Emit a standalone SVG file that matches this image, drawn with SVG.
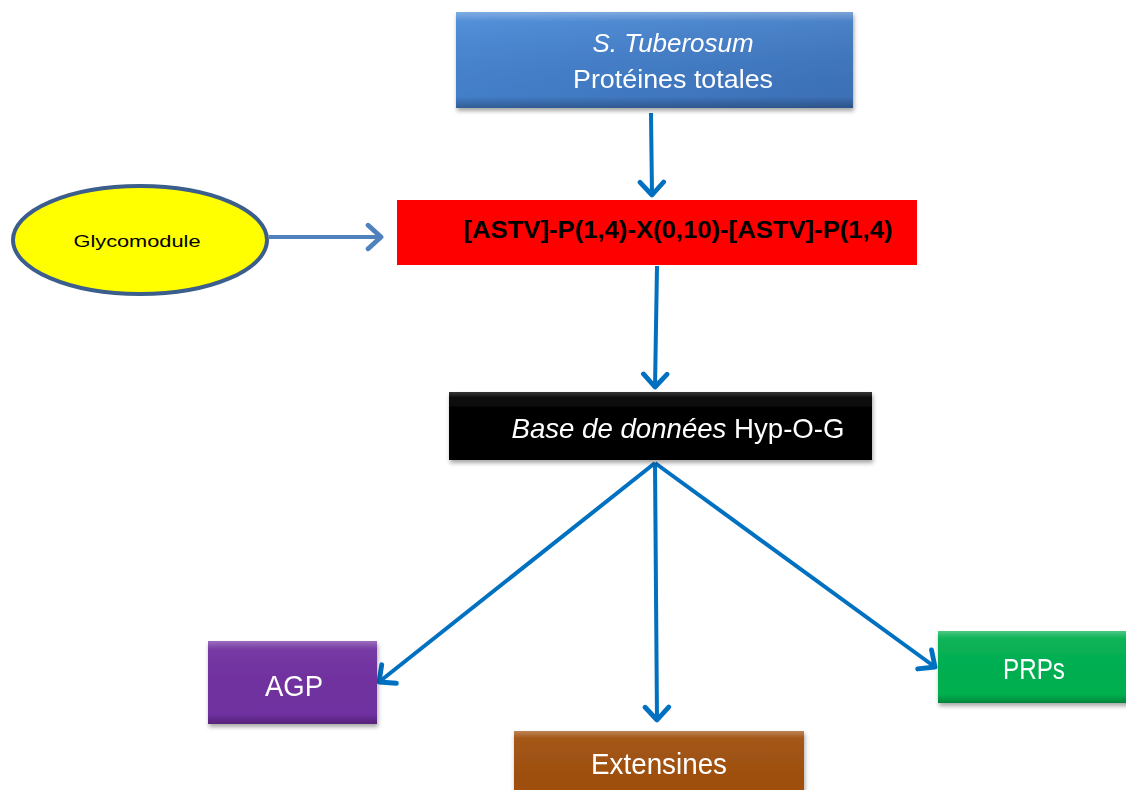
<svg xmlns="http://www.w3.org/2000/svg" width="1126" height="790" viewBox="0 0 1126 790">
  <defs>
    <style>
      .lbl { font-family: "Liberation Sans", Arial, sans-serif; fill: #ffffff; text-anchor: middle; }
      .conn { fill: none; stroke: #0070c0; stroke-width: 4; }
      .bevel { fill: url(#bevel); }
    </style>
    <linearGradient id="bevel" x1="0" y1="0" x2="0" y2="1">
      <stop offset="0" stop-color="#ffffff" stop-opacity="0.3"/>
      <stop offset="0.1" stop-color="#ffffff" stop-opacity="0.05"/>
      <stop offset="0.88" stop-color="#000000" stop-opacity="0"/>
      <stop offset="1" stop-color="#000000" stop-opacity="0.25"/>
    </linearGradient>
    <linearGradient id="blueFill" x1="0" y1="0" x2="1" y2="1">
      <stop offset="0" stop-color="#4a8bd8"/>
      <stop offset="1" stop-color="#3b6eb4"/>
    </linearGradient>
    <filter id="shadow" x="-10%" y="-10%" width="120%" height="130%">
      <feDropShadow dx="1" dy="3" stdDeviation="2" flood-color="#000000" flood-opacity="0.35"/>
    </filter>
    <marker id="chev" markerUnits="userSpaceOnUse" markerWidth="30" markerHeight="30" viewBox="-16 -14 20 28" refX="0" refY="0" orient="auto">
      <path d="M -12 -11 L 0 0 L -12 11" fill="none" stroke="#0070c0" stroke-width="4.5" stroke-linejoin="round" stroke-linecap="round"/>
    </marker>
    <marker id="chev2" markerUnits="userSpaceOnUse" markerWidth="30" markerHeight="30" viewBox="-16 -14 20 28" refX="0" refY="0" orient="auto">
      <path d="M -12 -11 L 0 0 L -12 11" fill="none" stroke="#4f81bd" stroke-width="4.5" stroke-linejoin="round" stroke-linecap="round"/>
    </marker>
  </defs>

  <rect x="0" y="0" width="1126" height="790" fill="#ffffff"/>

  <g id="connectors">
    <line class="conn" x1="651" y1="113" x2="652" y2="195" marker-end="url(#chev)"/>
    <line x1="269" y1="237" x2="381" y2="237" fill="none" stroke="#4f81bd" stroke-width="4" marker-end="url(#chev2)"/>
    <line class="conn" x1="657" y1="266" x2="655" y2="387" marker-end="url(#chev)"/>
    <line class="conn" x1="655" y1="463" x2="379" y2="682" marker-end="url(#chev)"/>
    <line class="conn" x1="655" y1="463" x2="657" y2="720" marker-end="url(#chev)"/>
    <line class="conn" x1="655" y1="463" x2="935" y2="667" marker-end="url(#chev)"/>
  </g>

  <g id="node-tuberosum" filter="url(#shadow)">
    <rect x="456" y="12" width="397" height="96" fill="url(#blueFill)"/>
    <rect x="456" y="12" width="397" height="96" class="bevel"/>
    <text class="lbl" x="673" y="52" font-size="26" font-style="italic" textLength="161" lengthAdjust="spacingAndGlyphs">S. Tuberosum</text>
    <text class="lbl" x="673" y="88" font-size="26" textLength="200" lengthAdjust="spacingAndGlyphs">Protéines totales</text>
  </g>

  <g id="node-glycomodule">
    <ellipse cx="140" cy="240" rx="127" ry="54" fill="#ffff00" stroke="#3b5e8c" stroke-width="4"/>
    <text x="137" y="247" font-family="Liberation Sans, Arial, sans-serif" font-size="17" fill="#000000" text-anchor="middle" textLength="127" lengthAdjust="spacingAndGlyphs">Glycomodule</text>
  </g>

  <g id="node-motif">
    <rect x="397" y="200" width="520" height="65" fill="#ff0000"/>
    <text x="678" y="238" font-family="Liberation Sans, Arial, sans-serif" font-size="24" font-weight="bold" fill="#000000" text-anchor="middle" textLength="429" lengthAdjust="spacingAndGlyphs">[ASTV]-P(1,4)-X(0,10)-[ASTV]-P(1,4)</text>
  </g>

  <g id="node-database" filter="url(#shadow)">
    <rect x="449" y="392" width="423" height="68" fill="#000000"/>
    <rect x="449" y="392" width="423" height="68" fill="url(#bevel)" opacity="0.7"/>
    <text class="lbl" x="678" y="438" font-size="28" textLength="333" lengthAdjust="spacingAndGlyphs"><tspan font-style="italic">Base de données</tspan> Hyp-O-G</text>
  </g>

  <g id="node-agp" filter="url(#shadow)">
    <rect x="208" y="641" width="169" height="83" fill="#7030a0"/>
    <rect x="208" y="641" width="169" height="83" class="bevel"/>
    <text class="lbl" x="294" y="696" font-size="29" textLength="58" lengthAdjust="spacingAndGlyphs">AGP</text>
  </g>

  <g id="node-extensines" filter="url(#shadow)">
    <rect x="514" y="731" width="290" height="70" fill="#a0500e"/>
    <rect x="514" y="731" width="290" height="70" class="bevel"/>
    <text class="lbl" x="659" y="774" font-size="29" textLength="136" lengthAdjust="spacingAndGlyphs">Extensines</text>
  </g>

  <g id="node-prps" filter="url(#shadow)">
    <rect x="938" y="631" width="200" height="72" fill="#00b050"/>
    <rect x="938" y="631" width="200" height="72" class="bevel"/>
    <text class="lbl" x="1034" y="679" font-size="29" textLength="62" lengthAdjust="spacingAndGlyphs">PRPs</text>
  </g>
</svg>
